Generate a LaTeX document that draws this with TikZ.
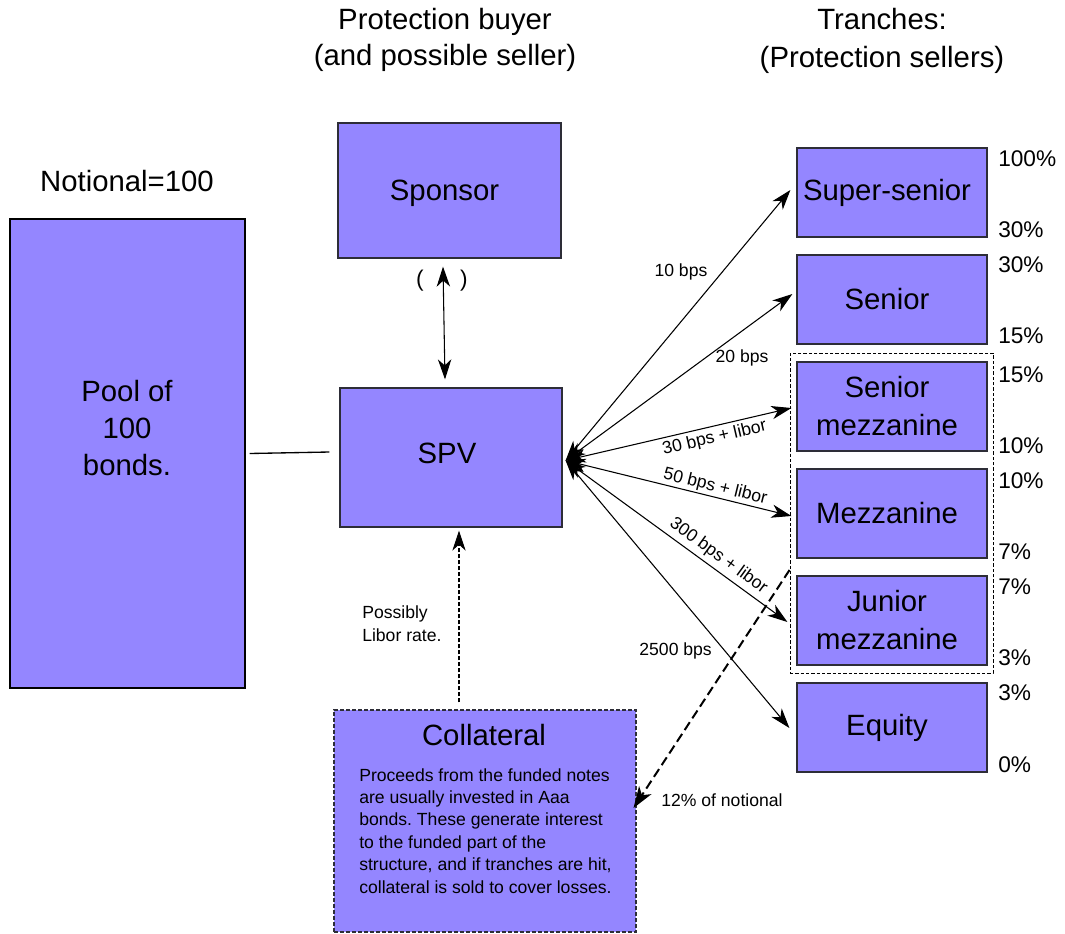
\documentclass[tikz,border=0pt]{standalone}
\usepackage{fontspec}
\setmainfont{Liberation Sans}
\usetikzlibrary{arrows.meta,calc}
\definecolor{boxfill}{RGB}{148,134,255}
\definecolor{boxline}{RGB}{45,45,55}
\newcommand\bigfs{\fontsize{22}{28.5}\selectfont}
\newcommand\pctfs{\fontsize{17}{20}\selectfont}
\newcommand\parfs{\fontsize{17}{20}\selectfont}
\newcommand\smallfs{\fontsize{13.2}{16.8}\selectfont}
\frenchspacing

\begin{document}
\begin{tikzpicture}[x=0.75pt,y=-0.75pt,
  cellbox/.style={draw=boxline, fill=boxfill, line width=0.9pt, inner sep=0pt,
                  align=center, font=\bigfs},
  headtxt/.style={align=center, font=\bigfs, inner sep=0pt},
  boxtxt/.style={headtxt, xshift=-3.75pt},
  tranche/.style={cellbox, minimum width=142.5pt, minimum height=66.75pt,
                  label={[boxtxt]center:{#1}}},
  pct/.style={anchor=west, inner sep=0pt, font=\pctfs},
  lbl/.style={inner sep=1pt, font=\smallfs},
  flow/.style={line width=0.8pt, {Stealth[length=15pt,width=10pt,inset=4.5pt]}-{Stealth[length=15pt,width=10pt,inset=4.5pt]}},
  oneway/.style={line width=0.8pt, -{Stealth[length=15pt,width=10pt,inset=4.5pt]}},
]
\useasboundingbox (0,0) rectangle (1065,933);

% column headings
\node[headtxt, font=\fontsize{22}{27}\selectfont] (hbuyer) at (445,40) {Protection buyer\\(and possible seller)};
\node[headtxt] (htranche) at (882,41) {Tranches:\\(Protection sellers)};
\node[headtxt] (hnotional) at (127,181) {Notional=100};

% reference pool
\node[cellbox, draw=black, minimum width=176.25pt, minimum height=351.75pt] (pool) at (127.5,453.5) {};
\node[headtxt, font=\fontsize{22}{28}\selectfont] (pooltxt) at (127,428) {Pool of\\100\\bonds.};

% sponsor and SPV
\node[cellbox, minimum width=167.25pt, minimum height=101.25pt] (sponsor) at (449.5,190.5) {};
\node[boxtxt] (sponsortxt) at (449.5,193) {Sponsor};
\node[cellbox, minimum width=166.5pt, minimum height=104.25pt] (spv) at (451,457.5) {};
\node[boxtxt, xshift=0.75pt] (spvtxt) at (451,453) {SPV};

% collateral account
\node[cellbox, dashed, dash pattern=on 3pt off 1.5pt, line width=0.8pt,
      minimum width=226.5pt, minimum height=166.5pt] (coll) at (485,821) {};
\node[headtxt] (colltitle) at (484,735) {Collateral};
\node[anchor=north west, align=left, inner sep=0pt, font=\smallfs] (collbody) at (359,768)
  {Proceeds from the funded notes\\are usually invested in Aaa\\bonds. These generate interest\\to the funded part of the\\structure, and if tranches are hit,\\collateral is sold to cover losses.};

% tranches
\node[tranche={Super-senior}] (sup) at (892,192.5) {};
\node[tranche={Senior}] (sen) at (892,299.5) {};
\node[tranche={Senior\\mezzanine}] (smz) at (892,406.5) {};
\node[tranche={Mezzanine}] (mzz) at (892,513.5) {};
\node[tranche={Junior\\mezzanine}] (jmz) at (892,620.5) {};
\node[tranche={Equity}] (eqt) at (892,727.5) {};

% funded tranches
\node[draw=black, dashed, dash pattern=on 2.5pt off 1.5pt, line width=0.7pt,
      minimum width=152.25pt, minimum height=240pt, inner sep=0pt] (funded) at (891.5,513) {};

% attachment / detachment points
\node[pct] (p1) at (998,159) {100\%};
\node[pct] (p2) at (998,230) {30\%};
\node[pct] (p3) at (998,265) {30\%};
\node[pct] (p4) at (998,336) {15\%};
\node[pct] (p5) at (998,375) {15\%};
\node[pct] (p6) at (998,446) {10\%};
\node[pct] (p7) at (998,481) {10\%};
\node[pct] (p8) at (998,552) {7\%};
\node[pct] (p9) at (998,587) {7\%};
\node[pct] (p10) at (998,658) {3\%};
\node[pct] (p11) at (998,693) {3\%};
\node[pct] (p12) at (998,765) {0\%};

% pool to SPV
\draw[line width=1pt] ($(pool.east)+(4,0)$) -- ($(spv.west)+(-10,-5.5)$);

% sponsor <-> SPV
\draw[flow] ($(sponsor.south)+(-6.5,8)$) -- ($(spv.north)+(-6,-8)$);
\node[inner sep=0pt, font=\parfs] (lpar) at (420,281) {(};
\node[inner sep=0pt, font=\parfs] (rpar) at (464,281) {)};

% premium legs
\coordinate (hub) at ($(spv.east)+(3,3)$);
\draw[flow] (hub) -- ($(sup.west)+(-6,-2.5)$)
  node[lbl, pos=0.697, xshift=-31pt] {10 bps};
\draw[flow] (hub) -- ($(sen.west)+(-4,-5.5)$)
  node[lbl, pos=0.616, xshift=27.5pt] {20 bps};
\draw[flow] (hub) -- ($(smz.west)+(-5,1.5)$)
  node[lbl, sloped, below=1.5pt, pos=0.648] {30 bps + libor};
\draw[flow] (hub) -- ($(mzz.west)+(-5,2.5)$)
  node[lbl, sloped, above, pos=0.652] {50 bps + libor};
\draw[flow] (hub) -- ($(jmz.west)+(-9,1.5)$)
  node[lbl, sloped, above=2pt, pos=0.655] {300 bps + libor};
\draw[flow] (hub) -- ($(eqt.west)+(-7,0.5)$)
  node[lbl, pos=0.712, xshift=-37pt] {2500 bps};

% collateral interest to SPV
\draw[oneway, dashed, dash pattern=on 3pt off 1.5pt] ($(coll.north)+(-26,-7)$) -- ($(spv.south)+(8,3)$);
\node[lbl, anchor=west, align=left, inner sep=0pt] (libor) at (362,623.5) {Possibly\\Libor rate.};

% funded notes proceeds to collateral
\draw[line width=1.5pt, dash pattern=on 7pt off 3.5pt, -{Stealth[length=16pt,width=11pt,inset=4.5pt]}]
  ($(funded.west)+(0,57)$) -- ($(coll.east)+(-3,-13)$);
\node[lbl, anchor=west, inner sep=0pt] (twelve) at (661,800) {12\% of notional};

\end{tikzpicture}
\end{document}
